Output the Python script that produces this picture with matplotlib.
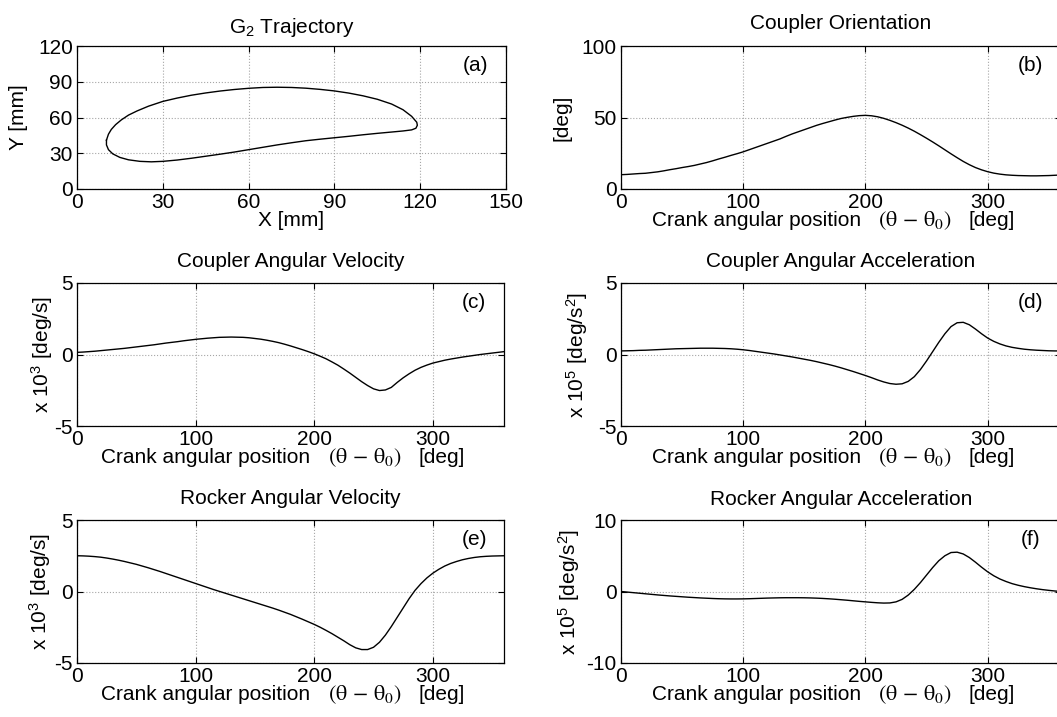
import matplotlib
matplotlib.use('Agg')
import matplotlib.pyplot as plt
import numpy as np

plt.rcParams['font.family'] = ['Liberation Sans', 'DejaVu Sans']
plt.rcParams['mathtext.fontset'] = 'custom'
plt.rcParams['mathtext.rm'] = 'Liberation Sans'
plt.rcParams['mathtext.it'] = 'Liberation Sans:italic'
plt.rcParams['axes.unicode_minus'] = False

traj_x = [10.3, 11, 12, 13.5, 15.5, 18, 21, 25, 30, 35, 40, 45, 50, 55, 60, 65,
          70, 75, 80, 85, 90, 95, 100, 105, 110, 114, 117, 118.8, 119, 118.5,
          117, 114, 110, 105, 100, 95, 90, 85, 80, 75, 70, 65, 60, 55, 50, 45,
          40, 35, 30, 26, 22, 18, 15, 12.5, 11, 10.3, 10.3]
traj_y = [41, 46, 50, 54, 58, 62, 65.5, 69.5, 73.5, 76.3, 78.7, 80.6, 82.2,
          83.5, 84.5, 85.2, 85.4, 85.2, 84.6, 83.6, 82.3, 80.5, 78.2, 75.3,
          71.3, 66.5, 61, 56, 53.5, 51, 49.6, 48.7, 47.8, 46.7, 45.5, 44.2, 43,
          41.8, 40.5, 38.8, 37, 35, 33, 31, 29.2, 27.5, 25.8, 24.3, 23.2, 22.8,
          23.2, 24.5, 26.5, 29.5, 33, 37, 41]

crank = np.arange(0, 361, 5)

# (b) coupler orientation [deg]
coupler_orient = [10, 10.2, 10.5, 10.8, 11, 11.5, 12, 12.7, 13.5, 14.2, 15,
                  15.7, 16.5, 17.5, 18.5, 19.7, 21, 22.2, 23.5, 24.7, 26,
                  27.5, 29, 30.5, 32, 33.5, 35, 36.8, 38.5, 40, 41.5, 43,
                  44.5, 45.8, 47, 48.2, 49.3, 50.1, 50.8, 51.3, 51.5, 51.2,
                  50.5, 49.4, 48.0, 46.4, 44.6, 42.6, 40.4, 38.0, 35.5, 32.9,
                  30.2, 27.4, 24.6, 21.9, 19.3, 17.0, 15.0, 13.4, 12.1, 11.1,
                  10.4, 9.9, 9.6, 9.4, 9.3, 9.2, 9.2, 9.3, 9.4, 9.6, 9.8]

# (c) coupler angular velocity [x1e3 deg/s]
coupler_vel = [0.15, 0.17, 0.2, 0.23, 0.27, 0.31, 0.35, 0.39, 0.43, 0.48,
               0.53, 0.58, 0.63, 0.68, 0.74, 0.8, 0.85, 0.9, 0.96, 1.01,
               1.06, 1.1, 1.14, 1.17, 1.2, 1.21, 1.22, 1.21, 1.2, 1.17, 1.12,
               1.07, 1.0, 0.92, 0.83, 0.72, 0.6, 0.47, 0.34, 0.2, 0.05,
               -0.12, -0.3, -0.52, -0.75, -1.02, -1.3, -1.6, -1.9, -2.17,
               -2.4, -2.52, -2.48, -2.3, -1.95, -1.63, -1.35, -1.1, -0.9,
               -0.74, -0.6, -0.5, -0.4, -0.32, -0.25, -0.18, -0.12, -0.06,
               0.0, 0.05, 0.1, 0.15, 0.2]

# (d) coupler angular acceleration [x1e5 deg/s^2]
coupler_acc = [0.25, 0.26, 0.27, 0.29, 0.3, 0.32, 0.34, 0.36, 0.38, 0.4, 0.41,
               0.42, 0.43, 0.44, 0.44, 0.44, 0.43, 0.42, 0.4, 0.37, 0.33,
               0.28, 0.22, 0.16, 0.1, 0.04, -0.03, -0.1, -0.17, -0.25, -0.33,
               -0.41, -0.5, -0.6, -0.7, -0.81, -0.93, -1.06, -1.19, -1.33,
               -1.47, -1.62, -1.78, -1.92, -2.03, -2.08, -2.05, -1.88, -1.55,
               -1.05, -0.45, 0.2, 0.85, 1.45, 1.95, 2.22, 2.25, 2.08, 1.78,
               1.45, 1.15, 0.92, 0.74, 0.6, 0.5, 0.43, 0.37, 0.33, 0.3, 0.28,
               0.26, 0.25, 0.25]

# (e) rocker angular velocity [x1e3 deg/s]
rocker_vel = [2.5, 2.49, 2.47, 2.44, 2.4, 2.34, 2.27, 2.19, 2.1, 2.0, 1.9,
              1.78, 1.66, 1.53, 1.4, 1.26, 1.12, 0.98, 0.84, 0.7, 0.56, 0.42,
              0.28, 0.14, 0.01, -0.12, -0.25, -0.38, -0.51, -0.64, -0.77,
              -0.9, -1.03, -1.16, -1.3, -1.45, -1.6, -1.77, -1.94, -2.12,
              -2.3, -2.5, -2.72, -2.95, -3.2, -3.45, -3.72, -3.94, -4.06,
              -4.06, -3.9, -3.55, -3.05, -2.45, -1.8, -1.15, -0.5, 0.08, 0.55,
              0.95, 1.28, 1.55, 1.78, 1.96, 2.1, 2.22, 2.31, 2.38, 2.43, 2.46,
              2.48, 2.49, 2.5]

# (f) rocker angular acceleration [x1e5 deg/s^2]
rocker_acc = [0, -0.08, -0.16, -0.24, -0.32, -0.4, -0.48, -0.55, -0.62, -0.68,
              -0.74, -0.8, -0.85, -0.9, -0.94, -0.98, -1.01, -1.03, -1.04,
              -1.04, -1.03, -1.01, -0.98, -0.95, -0.92, -0.9, -0.88, -0.87,
              -0.87, -0.87, -0.88, -0.9, -0.93, -0.97, -1.02, -1.08, -1.15,
              -1.22, -1.3, -1.38, -1.45, -1.52, -1.58, -1.62, -1.6, -1.45,
              -1.1, -0.5, 0.3, 1.25, 2.3, 3.35, 4.3, 5.0, 5.45, 5.5, 5.25,
              4.75, 4.1, 3.4, 2.75, 2.2, 1.75, 1.4, 1.1, 0.87, 0.68, 0.52,
              0.38, 0.26, 0.16, 0.07, 0.0]

FS = 15

fig = plt.figure(figsize=(10.57, 7.17), dpi=100)
fig.patch.set_facecolor('white')

left_l, w_l = 77 / 1057, 429 / 1057
left_r, w_r = 621 / 1057, 440 / 1057
h = 143 / 717
rows = [1 - 189 / 717, 1 - 426 / 717, 1 - 663 / 717]


def style(ax, tag):
    ax.grid(True, color='0.65', linestyle=':', linewidth=0.8)
    ax.tick_params(direction='in', top=True, right=True, length=4,
                   labelsize=FS, pad=3)
    for s in ax.spines.values():
        s.set_linewidth(0.9)
    ax.text(0.93, 0.865, tag, transform=ax.transAxes, ha='center',
            va='center', fontsize=FS)


def bottom_text(ax, s, dx, ha, **kw):
    ax.annotate(s, xy=(0.5, 0), xycoords='axes fraction', xytext=(dx, -37),
                textcoords='offset pixels', ha=ha, va='baseline', **kw)


def crank_xlabel(ax):
    ax.set_xlim(0, 360)
    ax.set_xticks([0, 100, 200, 300])
    bottom_text(ax, 'Crank angular position', 20, 'right', fontsize=FS)
    bottom_text(ax, r'$(\mathrm{\theta}\,-\,\mathrm{\theta}_{0})$', 37, 'left',
                fontsize=16, math_fontfamily='stix')
    bottom_text(ax, '[deg]', 128, 'left', fontsize=FS)


def y_label(ax, s, xpos):
    ax.set_ylabel(s, fontsize=FS)
    ax.yaxis.set_label_coords(xpos, 0.5)


# (a)
ax = fig.add_axes([left_l, rows[0], w_l, h])
ax.plot(traj_x, traj_y, color='black', linewidth=1)
ax.set_xlim(0, 150)
ax.set_ylim(0, 120)
ax.set_xticks([0, 30, 60, 90, 120, 150])
ax.set_yticks([0, 30, 60, 90, 120])
bottom_text(ax, 'X [mm]', 0, 'center', fontsize=FS)
y_label(ax, 'Y [mm]', -0.115)
ax.set_title('G$_2$ Trajectory', fontsize=FS, pad=9.5)
style(ax, '(a)')

# (b)
ax = fig.add_axes([left_r, rows[0], w_r, h])
ax.plot(crank, coupler_orient, color='black', linewidth=1)
ax.set_ylim(0, 100)
ax.set_yticks([0, 50, 100])
y_label(ax, '[deg]', -0.112)
ax.set_title('Coupler Orientation', fontsize=FS, pad=12)
crank_xlabel(ax)
style(ax, '(b)')

# (c)
ax = fig.add_axes([left_l, rows[1], 427 / 1057, h])
ax.plot(crank, coupler_vel, color='black', linewidth=1)
ax.set_ylim(-5, 5)
ax.set_yticks([-5, 0, 5])
y_label(ax, r'x 10$^3$ [deg/s]', -0.052)
ax.set_title('Coupler Angular Velocity', fontsize=FS, pad=11.5)
crank_xlabel(ax)
style(ax, '(c)')

# (d)
ax = fig.add_axes([left_r, rows[1], w_r, h])
ax.plot(crank, coupler_acc, color='black', linewidth=1)
ax.set_ylim(-5, 5)
ax.set_yticks([-5, 0, 5])
y_label(ax, r'x 10$^5$ [deg/s$^2$]', -0.07)
ax.set_title('Coupler Angular Acceleration', fontsize=FS, pad=11.5)
crank_xlabel(ax)
style(ax, '(d)')

# (e)
ax = fig.add_axes([left_l, rows[2], 427 / 1057, h])
ax.plot(crank, rocker_vel, color='black', linewidth=1)
ax.set_ylim(-5, 5)
ax.set_yticks([-5, 0, 5])
y_label(ax, r'x 10$^3$ [deg/s]', -0.056)
ax.set_title('Rocker Angular Velocity', fontsize=FS, pad=11.5)
crank_xlabel(ax)
style(ax, '(e)')

# (f)
ax = fig.add_axes([left_r, rows[2], w_r, h])
ax.plot(crank, rocker_acc, color='black', linewidth=1)
ax.set_ylim(-10, 10)
ax.set_yticks([-10, 0, 10])
y_label(ax, r'x 10$^5$ [deg/s$^2$]', -0.089)
ax.set_title('Rocker Angular Acceleration', fontsize=FS, pad=11)
crank_xlabel(ax)
style(ax, '(f)')

fig.savefig('out.png', dpi=100)
